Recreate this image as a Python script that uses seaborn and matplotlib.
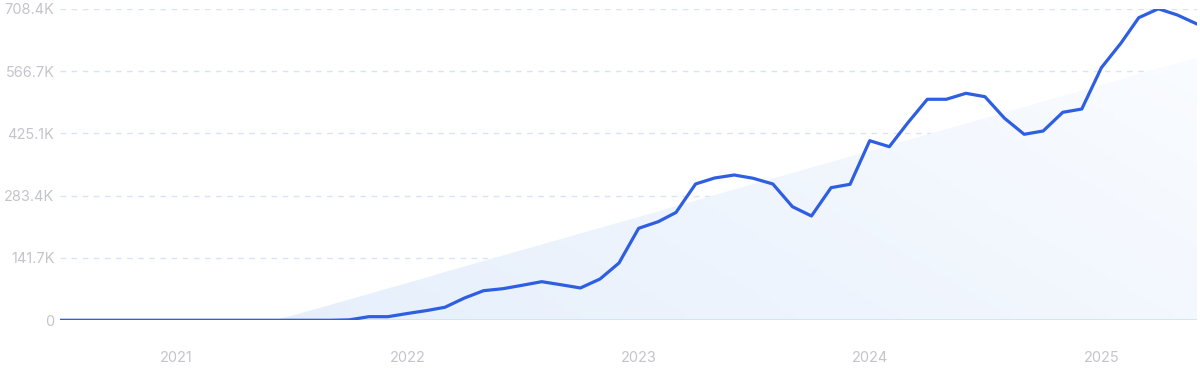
import numpy as np
import pandas as pd
import matplotlib
matplotlib.use("Agg")
import matplotlib.pyplot as plt
import matplotlib.dates as mdates
import seaborn as sns

# monthly search volume, Jul 2020 .. Jun 2025 (in thousands)
start_month = "2020-07-01"
volume_k = [
    0, 0, 0, 0, 0, 0, 0, 0, 0, 0, 0, 0, 0, 0, 0,
    1, 8.2, 8.2, 15.5, 22.3, 29.6, 50.7, 67.3, 71.9, 79.6, 87.8, 80.7, 73.5, 93.9, 130.3,
    209.2, 224.2, 245.2, 310.0, 323.6, 330.4, 322.9, 310.0, 258.3, 237.2, 301.6, 309.3,
    408.4, 394.8, 448.7, 502.6, 502.6, 516.2, 508.5, 459.4, 423.0, 430.5, 473.0, 480.5,
    574.5, 630.6, 688.2, 708.4, 694.3, 673.8,
]
y_ticks_k = [0, 141.7, 283.4, 425.1, 566.7, 708.4]
y_tick_labels = ["0", "141.7K", "283.4K", "425.1K", "566.7K", "708.4K"]
x_tick_years = [2021, 2022, 2023, 2024, 2025]

dates = pd.date_range(start_month, periods=len(volume_k), freq="MS")
df = pd.DataFrame({"date": dates, "volume": np.array(volume_k) * 1000})

# linear trend, clipped at zero
idx = np.arange(len(df))
coef = np.polyfit(idx, df["volume"], 1)
trend = np.clip(np.polyval(coef, idx), 0, None)

sns.set_theme(style="white")
plt.rcParams["font.family"] = ["Inter", "DejaVu Sans"]

fig = plt.figure(figsize=(12, 3.71), dpi=100)
ax = fig.add_axes([0.05, 0.1367, 0.9475, 0.8396])

# gradient fill under trend
poly = ax.fill_between(df["date"], 0, trend, color="none", lw=0)
xn = mdates.date2num(df["date"])
gx, gy = np.meshgrid(np.linspace(0, 1, 300), np.linspace(0, 1, 100))
t = np.clip(0.75 * gx + 0.35 * (1 - gy), 0, 1)
c0 = np.array([0.89, 0.93, 0.985])
c1 = np.array([0.975, 0.985, 1.0])
img = c0[None, None, :] * (1 - t[..., None]) + c1[None, None, :] * t[..., None]
im = ax.imshow(img, extent=[xn[0], xn[-1], 0, max(volume_k) * 1000],
               origin="upper", aspect="auto", zorder=1)
im.set_clip_path(poly.get_paths()[0], transform=ax.transData)

# grid
for v in y_ticks_k[1:]:
    ax.axhline(v * 1000, color="#d5e4f6", lw=1, ls=(0, (4, 4)), zorder=0)
ax.axhline(0, color="#cfe2f8", lw=1.2, zorder=2)

sns.lineplot(data=df, x="date", y="volume", ax=ax, color="#2e5fe3", lw=2.3, zorder=3)

ax.set_xlim(df["date"].iloc[0], df["date"].iloc[-1])
ax.set_ylim(0, max(volume_k) * 1000)
ax.set_yticks([v * 1000 for v in y_ticks_k])
ax.set_yticklabels(y_tick_labels)
ax.set_xticks([pd.Timestamp(f"{y}-01-01") for y in x_tick_years])
ax.set_xticklabels([str(y) for y in x_tick_years])
ax.tick_params(axis="both", length=0, labelsize=10.5, labelcolor="#c4c4cc")
ax.tick_params(axis="x", pad=22)
ax.tick_params(axis="y", pad=4)
ax.set_xlabel("")
ax.set_ylabel("")
for s in ax.spines.values():
    s.set_visible(False)

fig.savefig("out.png", dpi=100)
